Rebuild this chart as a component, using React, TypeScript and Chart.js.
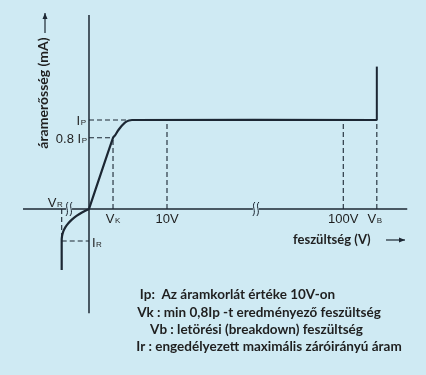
import React, { useEffect, useRef } from "react";
import { Chart, registerables } from "chart.js";

Chart.register(...registerables);

// Schematic units: x = position along the (broken) voltage axis, 10 = "10V" mark;
// y = current in units of Ip.
const forwardX = [0, 3.08, 3.33, 3.65, 3.97, 4.36, 4.74, 5.13, 5.51, 36.9];
const forwardY = [0, 0.8, 0.826, 0.871, 0.91, 0.949, 0.978, 0.994, 1, 1];
const breakdownX = [36.9, 36.9];
const breakdownY = [1, 1.6];
const reverseX = [0, -0.9, -1.6, -2.2, -2.65, -3.0, -3.27, -3.42, -3.49, -3.5, -3.5];
const reverseY = [0, -0.04, -0.078, -0.12, -0.16, -0.2, -0.245, -0.29, -0.33, -0.36, -0.685];

// Marked positions
const VK = 3.08;
const V10 = 10;
const V100 = 32.6;
const VB = 36.9;
const VR = -3.5;
const IP = 1;
const IP08 = 0.8;
const IR = -0.36;
const IP_DASH_END = 4.87;

// Axis extents and breaks
const xAxisRange = [-8.46, 40.8];
const yAxisRange = [-1.17, 2.18];
const axisBreaks = [-2.56, 21.4];

// Tick / label texts
const tickLabels = { vk: ["V", "K"], v10: "10V", v100: "100V", vb: ["V", "B"], vr: ["V", "R"], ip: ["I", "P"], ip08: ["0.8 I", "P"], ir: ["I", "R"] };
const yTitle = "áramerősség (mA)";
const xTitle = "feszültség (V)";
const notes = [
  "Ip:  Az áramkorlát értéke 10V-on",
  "Vk : min 0,8Ip -t eredményező feszültség",
  "Vb : letörési (breakdown) feszültség",
  "Ir : engedélyezett maximális záróirányú áram",
];

const BG = "#cfeaf3";
const INK = "#1c2733";
const TXT = "#1f1f1f";
const LABEL_FONT = '"Liberation Sans", Arial, sans-serif';
const TEXT_FONT = 'Lato, "Open Sans", sans-serif';

const pts = (xs: number[], ys: number[]) => xs.map((x, i) => ({ x, y: ys[i] }));

function subLabel(ctx: CanvasRenderingContext2D, parts: string[], x: number, y: number, align: string, size: number) {
  ctx.font = `${size}px ${LABEL_FONT}`;
  const w1 = ctx.measureText(parts[0]).width;
  const subSize = Math.round(size * 0.62);
  ctx.font = `${subSize}px ${LABEL_FONT}`;
  const w2 = ctx.measureText(parts[1]).width;
  const total = w1 + w2 + 0.5;
  const left = align === "left" ? x : align === "center" ? x - total / 2 : x - total;
  ctx.textAlign = "left";
  ctx.textBaseline = "alphabetic";
  ctx.font = `${size}px ${LABEL_FONT}`;
  ctx.fillText(parts[0], left, y);
  ctx.font = `${subSize}px ${LABEL_FONT}`;
  ctx.fillText(parts[1], left + w1 + 0.5, y);
}

function breakMark(ctx: CanvasRenderingContext2D, cx: number, cy: number) {
  ctx.save();
  ctx.fillStyle = BG;
  ctx.fillRect(cx - 3, cy - 2, 6, 4);
  ctx.strokeStyle = INK;
  ctx.lineWidth = 1;
  for (const dx of [-2, 2]) {
    ctx.beginPath();
    ctx.moveTo(cx + dx + 1, cy - 7);
    ctx.bezierCurveTo(cx + dx - 3, cy - 3, cx + dx + 3, cy + 2, cx + dx - 1, cy + 7);
    ctx.stroke();
  }
  ctx.restore();
}

function arrow(ctx: CanvasRenderingContext2D, x1: number, y1: number, x2: number, y2: number) {
  ctx.save();
  ctx.strokeStyle = INK;
  ctx.fillStyle = INK;
  ctx.lineWidth = 1.2;
  ctx.beginPath();
  ctx.moveTo(x1, y1);
  ctx.lineTo(x2, y2);
  ctx.stroke();
  const a = Math.atan2(y2 - y1, x2 - x1);
  ctx.beginPath();
  ctx.moveTo(x2, y2);
  ctx.lineTo(x2 - 6 * Math.cos(a) + 2.5 * Math.sin(a), y2 - 6 * Math.sin(a) - 2.5 * Math.cos(a));
  ctx.lineTo(x2 - 6 * Math.cos(a) - 2.5 * Math.sin(a), y2 - 6 * Math.sin(a) + 2.5 * Math.cos(a));
  ctx.closePath();
  ctx.fill();
  ctx.restore();
}

const annotations = {
  id: "annotations",
  beforeDraw(chart: any) {
    const { ctx, width, height } = chart;
    ctx.save();
    ctx.fillStyle = BG;
    ctx.fillRect(0, 0, width, height);
    ctx.restore();
  },
  afterDatasetsDraw(chart: any) {
    const ctx: CanvasRenderingContext2D = chart.ctx;
    const X = (v: number) => chart.scales.x.getPixelForValue(v);
    const Y = (v: number) => chart.scales.y.getPixelForValue(v);
    ctx.save();
    for (const b of axisBreaks) breakMark(ctx, X(b), Y(0));
    ctx.fillStyle = TXT;
    const size = 13;
    subLabel(ctx, tickLabels.ip, X(0) - 3, Y(IP) + 5, "right", size);
    subLabel(ctx, tickLabels.ip08, X(0) - 2, Y(IP08) + 5, "right", size);
    subLabel(ctx, tickLabels.vk, X(VK), Y(0) + 14, "center", size);
    subLabel(ctx, tickLabels.vb, X(VB) - 2, Y(0) + 14, "center", size);
    subLabel(ctx, tickLabels.vr, X(VR) + 1, Y(0) - 2, "right", size);
    subLabel(ctx, tickLabels.ir, X(0) + 3, Y(IR) + 6, "left", size);
    ctx.font = `${size}px ${LABEL_FONT}`;
    ctx.textAlign = "center";
    ctx.textBaseline = "alphabetic";
    ctx.fillText(tickLabels.v10, X(V10), Y(0) + 14);
    ctx.fillText(tickLabels.v100, X(V100), Y(0) + 14);

    // axis titles
    ctx.save();
    ctx.translate(X(0) - 46, 93);
    ctx.rotate(-Math.PI / 2);
    ctx.font = `bold 14px ${TEXT_FONT}`;
    ctx.textAlign = "center";
    ctx.textBaseline = "middle";
    ctx.fillText(yTitle, 0, 0);
    ctx.restore();
    arrow(ctx, X(0) - 44, 33, X(0) - 44, 13);

    ctx.font = `bold 13px ${TEXT_FONT}`;
    ctx.textAlign = "left";
    ctx.textBaseline = "middle";
    ctx.fillText(xTitle, 293, Y(0) + 31);
    arrow(ctx, 386, Y(0) + 31, 405, Y(0) + 31);

    // notes
    const centers = [237.5, 259, 256.5, 269];
    const mids = [295, 312.5, 330, 347];
    ctx.textAlign = "center";
    ctx.font = `bold 13.5px ${TEXT_FONT}`;
    notes.forEach((t, i) => ctx.fillText(t, centers[i], mids[i]));
    ctx.restore();
  },
};

export default function App() {
  const ref = useRef<HTMLCanvasElement>(null);
  useEffect(() => {
    document.body.style.margin = "0";
    document.body.style.background = BG;
    const solid = (data: any[], w: number) => ({
      data,
      showLine: true,
      borderColor: INK,
      borderWidth: w,
      pointRadius: 0,
      tension: 0,
      fill: false,
    });
    const dashed = (data: any[]) => ({
      data,
      showLine: true,
      borderColor: INK,
      borderWidth: 1.1,
      borderDash: [5, 3],
      pointRadius: 0,
      tension: 0,
      fill: false,
    });
    const chart = new Chart(ref.current!, {
      type: "scatter",
      data: {
        datasets: [
          solid(pts(xAxisRange, [0, 0]), 1.5),
          solid(pts([0, 0], yAxisRange), 1.5),
          dashed(pts([0, IP_DASH_END], [IP, IP])),
          dashed(pts([0, VK], [IP08, IP08])),
          dashed(pts([VK, VK], [0, IP08])),
          dashed(pts([V10, V10], [0, IP])),
          dashed(pts([V100, V100], [0, IP])),
          dashed(pts([VB, VB], [0, IP])),
          dashed(pts([VR, VR], [0, IR])),
          dashed(pts([VR, 0], [IR, IR])),
          { ...solid(pts(forwardX, forwardY), 2.2), tension: 0.25 },
          solid(pts(breakdownX, breakdownY), 2),
          { ...solid(pts(reverseX, reverseY), 2.2), tension: 0.3 },
        ] as any,
      },
      options: {
        responsive: false,
        animation: false,
        layout: { padding: 0 },
        plugins: { legend: { display: false }, tooltip: { enabled: false } },
        scales: {
          x: { type: "linear", min: -11.41, max: 43.205, display: false },
          y: { type: "linear", min: -1.8652, max: 2.3483, display: false },
        },
      },
      plugins: [annotations],
    });
    return () => chart.destroy();
  }, []);
  return (
    <div style={{ width: 426, height: 375, background: BG }}>
      <canvas ref={ref} width={426} height={375} />
    </div>
  );
}
